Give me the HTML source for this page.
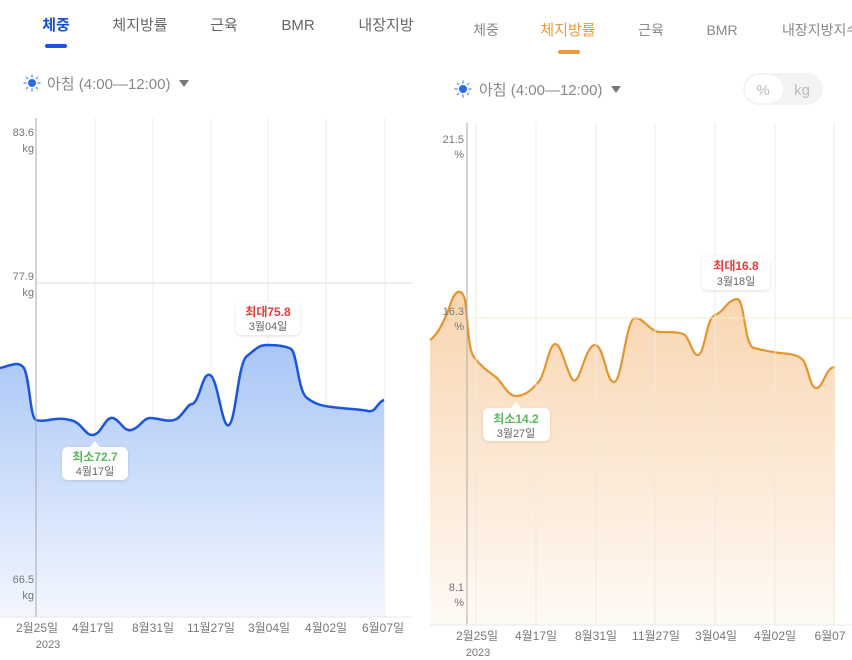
<!DOCTYPE html>
<html><head><meta charset="utf-8"><style>
html,body{margin:0;padding:0;background:#fff;width:852px;height:660px;overflow:hidden}
svg{display:block;font-family:"Liberation Sans","Noto Sans CJK KR",sans-serif}
</style></head><body>
<svg width="852" height="660" viewBox="0 0 852 660" xmlns="http://www.w3.org/2000/svg">
<defs>
<linearGradient id="gb" x1="0" y1="0" x2="0" y2="1"><stop offset="0" stop-color="#a9c6f6"/><stop offset="1" stop-color="#f3f7ff"/></linearGradient>
<linearGradient id="go" x1="0" y1="0" x2="0" y2="1"><stop offset="0" stop-color="#f8d5b0"/><stop offset="1" stop-color="#fffaf5"/></linearGradient>
<filter id="sh" x="-20%" y="-20%" width="140%" height="160%"><feDropShadow dx="0" dy="1" stdDeviation="1.5" flood-color="#000" flood-opacity="0.12"/></filter>
</defs>
<!-- LEFT PANEL -->
<g font-size="15">
<text x="56" y="30" text-anchor="middle" fill="#1a4fd6" font-weight="bold">체중</text>
<rect x="45" y="44" width="22" height="4" rx="2" fill="#1a56db"/>
<text x="140" y="30" text-anchor="middle" fill="#666">체지방률</text>
<text x="224" y="30" text-anchor="middle" fill="#666">근육</text>
<text x="298" y="30" text-anchor="middle" fill="#666">BMR</text>
<text x="386" y="30" text-anchor="middle" fill="#666">내장지방</text>
</g>
<circle cx="32" cy="83" r="4" fill="#2a6be8"/>
<g stroke="#6e9cf0" stroke-width="1.5" stroke-linecap="round"><line x1="32" y1="75" x2="32" y2="77"/><line x1="32" y1="89" x2="32" y2="91"/><line x1="24" y1="83" x2="26" y2="83"/><line x1="38" y1="83" x2="40" y2="83"/><line x1="26.5" y1="77.5" x2="27.5" y2="78.5"/><line x1="37.5" y1="88.5" x2="36.5" y2="87.5"/><line x1="37.5" y1="77.5" x2="36.5" y2="78.5"/><line x1="26.5" y1="88.5" x2="27.5" y2="87.5"/></g>
<text x="47" y="89" font-size="15" fill="#888">아침 (4:00—12:00)</text>
<path d="M179 80 L189 80 L184 87 Z" fill="#777"/>
<g stroke="#eee" stroke-width="1"><line x1="95" y1="118" x2="95" y2="617"/><line x1="153" y1="118" x2="153" y2="617"/><line x1="211" y1="118" x2="211" y2="617"/><line x1="268" y1="118" x2="268" y2="617"/><line x1="326" y1="118" x2="326" y2="617"/><line x1="385" y1="118" x2="385" y2="617"/></g>
<line x1="36" y1="283" x2="412" y2="283" stroke="#ddd"/>
<path d="M0 368 C10 366 18 360 24 368 C30 380 30 418 36 420 C45 423 55 416 70 420 C82 422 85 436 93 435 C102 434 105 416 113 418 C120 420 124 432 131 430 C140 428 143 418 150 418 C160 418 170 424 178 418 C185 412 188 404 192 404 C200 402 202 372 210 375 C218 378 222 430 229 425 C236 420 238 362 247 356 C255 350 258 345 267 345 C276 345 286 346 291 349 C297 352 298 392 307 398 C315 404 322 406 332 407 C345 409 360 409 368 411 C376 413 377 402 384 400 L384 617 L0 617 Z" fill="url(#gb)"/>
<path d="M0 368 C10 366 18 360 24 368 C30 380 30 418 36 420 C45 423 55 416 70 420 C82 422 85 436 93 435 C102 434 105 416 113 418 C120 420 124 432 131 430 C140 428 143 418 150 418 C160 418 170 424 178 418 C185 412 188 404 192 404 C200 402 202 372 210 375 C218 378 222 430 229 425 C236 420 238 362 247 356 C255 350 258 345 267 345 C276 345 286 346 291 349 C297 352 298 392 307 398 C315 404 322 406 332 407 C345 409 360 409 368 411 C376 413 377 402 384 400" fill="none" stroke="#1a56db" stroke-width="2.5"/>
<line x1="36" y1="118" x2="36" y2="617" stroke="#aaa"/>
<line x1="0" y1="617" x2="412" y2="617" stroke="#e5e5e5"/>
<g font-size="11" fill="#777" text-anchor="end"><text x="34" y="136">83.6</text><text x="34" y="152">kg</text><text x="34" y="280">77.9</text><text x="34" y="296">kg</text><text x="34" y="583">66.5</text><text x="34" y="599">kg</text></g>
<g font-size="12" fill="#777" text-anchor="middle"><text x="37" y="632">2월25일</text><text x="93" y="632">4월17일</text><text x="153" y="632">8월31일</text><text x="211" y="632">11월27일</text><text x="269" y="632">3월04일</text><text x="326" y="632">4월02일</text><text x="383" y="632">6월07일</text><text x="48" y="648" font-size="11">2023</text></g>
<rect x="236" y="302" width="64" height="33" rx="6" fill="#fff" filter="url(#sh)"/>
<text x="268" y="316" font-size="12" font-weight="bold" fill="#e53935" text-anchor="middle">최대75.8</text>
<text x="268" y="330" font-size="11" fill="#666" text-anchor="middle">3월04일</text>
<rect x="62" y="447" width="66" height="33" rx="6" fill="#fff" filter="url(#sh)"/>
<path d="M90 447 L95 441 L100 447 Z" fill="#fff"/>
<text x="95" y="461" font-size="12" font-weight="bold" fill="#5cb85c" text-anchor="middle">최소72.7</text>
<text x="95" y="475" font-size="11" fill="#666" text-anchor="middle">4월17일</text>
<!-- RIGHT PANEL -->
<g font-size="14">
<text x="486" y="35" text-anchor="middle" fill="#888">체중</text>
<text x="568" y="35" text-anchor="middle" fill="#ea9a3e" font-size="15">체지방률</text>
<rect x="558" y="50" width="22" height="4" rx="2" fill="#ea9a3e"/>
<text x="651" y="35" text-anchor="middle" fill="#888">근육</text>
<text x="722" y="35" text-anchor="middle" fill="#888">BMR</text>
<text x="782" y="35" fill="#888">내장지방지수</text>
</g>
<circle cx="463" cy="89" r="4" fill="#2a6be8"/>
<g stroke="#6e9cf0" stroke-width="1.5" stroke-linecap="round"><line x1="463" y1="81" x2="463" y2="83"/><line x1="463" y1="95" x2="463" y2="97"/><line x1="455" y1="89" x2="457" y2="89"/><line x1="469" y1="89" x2="471" y2="89"/><line x1="457.5" y1="83.5" x2="458.5" y2="84.5"/><line x1="468.5" y1="94.5" x2="467.5" y2="93.5"/><line x1="468.5" y1="83.5" x2="467.5" y2="84.5"/><line x1="457.5" y1="94.5" x2="458.5" y2="93.5"/></g>
<text x="479" y="95" font-size="15" fill="#888">아침 (4:00—12:00)</text>
<path d="M611 86 L621 86 L616 93 Z" fill="#777"/>
<rect x="743" y="73" width="80" height="32" rx="16" fill="#f3f3f5"/>
<rect x="745" y="75" width="38" height="28" rx="14" fill="#fff"/>
<text x="763" y="95" font-size="15" fill="#bbb" text-anchor="middle">%</text>
<text x="802" y="95" font-size="15" fill="#bbb" text-anchor="middle">kg</text>
<path d="M430 340 C438 335 445 320 452 300 C456 290 462 288 465 300 C468 320 468 350 474 357 C482 368 490 372 497 378 C503 384 508 396 516 396 C525 396 532 390 540 380 C546 370 549 345 555 344 C562 344 566 372 573 380 C580 386 585 345 595 345 C604 345 606 382 614 382 C622 382 626 318 635 318 C644 318 650 332 660 332 C672 332 680 332 685 335 C690 340 693 356 698 355 C705 354 706 318 715 315 C724 312 727 300 737 299 C745 299 744 346 754 348 C762 350 770 352 780 353 C792 354 798 355 803 360 C808 366 810 388 816 388 C824 388 825 367 835 367 L835 625 L430 625 Z" fill="url(#go)"/>
<path d="M430 340 C438 335 445 320 452 300 C456 290 462 288 465 300 C468 320 468 350 474 357 C482 368 490 372 497 378 C503 384 508 396 516 396 C525 396 532 390 540 380 C546 370 549 345 555 344 C562 344 566 372 573 380 C580 386 585 345 595 345 C604 345 606 382 614 382 C622 382 626 318 635 318 C644 318 650 332 660 332 C672 332 680 332 685 335 C690 340 693 356 698 355 C705 354 706 318 715 315 C724 312 727 300 737 299 C745 299 744 346 754 348 C762 350 770 352 780 353 C792 354 798 355 803 360 C808 366 810 388 816 388 C824 388 825 367 835 367" fill="none" stroke="#e3962f" stroke-width="2.2"/>
<g stroke="#f0e8de" stroke-width="1"><line x1="476" y1="123" x2="476" y2="625"/><line x1="536" y1="123" x2="536" y2="625"/><line x1="596" y1="123" x2="596" y2="625"/><line x1="655" y1="123" x2="655" y2="625"/><line x1="715" y1="123" x2="715" y2="625"/><line x1="775" y1="123" x2="775" y2="625"/><line x1="834" y1="123" x2="834" y2="625"/></g>
<line x1="467" y1="318" x2="852" y2="318" stroke="#f5ecc8"/>
<line x1="467" y1="123" x2="467" y2="625" stroke="#aaa"/>
<line x1="430" y1="625" x2="852" y2="625" stroke="#e8e8e8"/>
<g font-size="11" fill="#777" text-anchor="end"><text x="464" y="143">21.5</text><text x="464" y="158">%</text><text x="464" y="315">16.3</text><text x="464" y="330">%</text><text x="464" y="591">8.1</text><text x="464" y="606">%</text></g>
<g font-size="12" fill="#777" text-anchor="middle"><text x="477" y="640">2월25일</text><text x="536" y="640">4월17일</text><text x="596" y="640">8월31일</text><text x="656" y="640">11월27일</text><text x="716" y="640">3월04일</text><text x="775" y="640">4월02일</text><text x="830" y="640">6월07</text><text x="478" y="656" font-size="11">2023</text></g>
<rect x="702" y="256" width="68" height="34" rx="6" fill="#fff" filter="url(#sh)"/>
<text x="736" y="270" font-size="12" font-weight="bold" fill="#e53935" text-anchor="middle">최대16.8</text>
<text x="736" y="285" font-size="11" fill="#666" text-anchor="middle">3월18일</text>
<rect x="483" y="408" width="67" height="33" rx="6" fill="#fff" filter="url(#sh)"/>
<path d="M511 408 L516 402 L521 408 Z" fill="#fff"/>
<text x="516" y="423" font-size="12" font-weight="bold" fill="#5cb85c" text-anchor="middle">최소14.2</text>
<text x="516" y="437" font-size="11" fill="#666" text-anchor="middle">3월27일</text>
</svg>
</body></html>
